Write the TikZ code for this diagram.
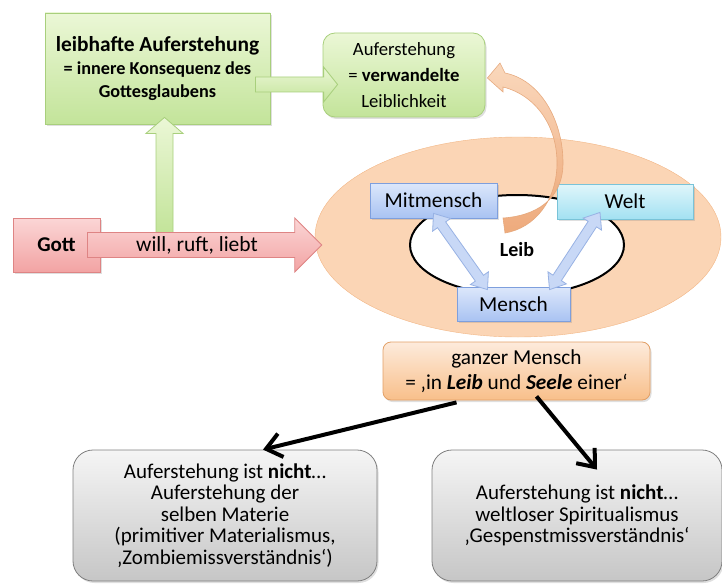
\documentclass[tikz,border=0pt]{standalone}
\usepackage{fontspec}
\setmainfont{Carlito}
\usetikzlibrary{calc,shadows,shapes.geometric,arrows.meta}

\definecolor{gruenoben}{HTML}{EBF7D6}
\definecolor{gruenunten}{HTML}{C3E49A}
\definecolor{gruenrand}{HTML}{A8CF7C}
\definecolor{rotoben}{HTML}{FBD6D6}
\definecolor{rotunten}{HTML}{F2A3A3}
\definecolor{rotrand}{HTML}{DE8484}
\definecolor{pfirsich}{HTML}{FBD5B5}
\definecolor{pfirsichrand}{HTML}{F2B685}
\definecolor{blauoben}{HTML}{DCE7FB}
\definecolor{blauunten}{HTML}{A9C3F2}
\definecolor{blaurand}{HTML}{7E9FDD}
\definecolor{blaupfeilfill}{HTML}{C8D8F6}
\definecolor{tuerkisoben}{HTML}{E0F6FB}
\definecolor{tuerkisunten}{HTML}{A3E1F2}
\definecolor{tuerkisrand}{HTML}{79C3D8}
\definecolor{orangeoben}{HTML}{FDEBDC}
\definecolor{orangeunten}{HTML}{F8BF8A}
\definecolor{orangerand}{HTML}{E2A067}
\definecolor{grauoben}{HTML}{F5F5F5}
\definecolor{grauunten}{HTML}{C6C6C6}
\definecolor{graurand}{HTML}{7F7F7F}
\definecolor{bogenoben}{HTML}{F9D4B6}
\definecolor{bogenunten}{HTML}{EDA472}
\definecolor{bogenrand}{HTML}{E5A679}

% block arrow: [style]{from}{to}{half shaft}{half head}{head length}
\newcommand{\blockpfeil}[6][]{%
  \path (#2) coordinate (bp-a) (#3) coordinate (bp-b);
  \path ($(bp-b)!#6!(bp-a)$) coordinate (bp-c);
  \draw[#1] ($(bp-a)!#4!90:(bp-b)$) -- ($(bp-c)!#4!90:(bp-b)$) -- ($(bp-c)!#5!90:(bp-b)$)
    -- (bp-b) -- ($(bp-c)!#5!-90:(bp-b)$) -- ($(bp-c)!#4!-90:(bp-b)$) -- ($(bp-a)!#4!-90:(bp-b)$) -- cycle;}
\newcommand{\doppelpfeil}[6][]{%
  \path (#2) coordinate (dp-a) (#3) coordinate (dp-b);
  \path ($(dp-a)!#6!(dp-b)$) coordinate (dp-c) ($(dp-b)!#6!(dp-a)$) coordinate (dp-d);
  \draw[#1] (dp-a) -- ($(dp-c)!#5!90:(dp-b)$) -- ($(dp-c)!#4!90:(dp-b)$) -- ($(dp-d)!#4!90:(dp-b)$)
    -- ($(dp-d)!#5!90:(dp-b)$) -- (dp-b) -- ($(dp-d)!#5!-90:(dp-b)$) -- ($(dp-d)!#4!-90:(dp-b)$)
    -- ($(dp-c)!#4!-90:(dp-b)$) -- ($(dp-c)!#5!-90:(dp-b)$) -- cycle;}

\tikzset{
  schatten/.style={drop shadow={opacity=.25,shadow xshift=1.5pt,shadow yshift=-2pt}},
  gruenbox/.style={draw=gruenrand,top color=gruenoben,bottom color=gruenunten,line width=.8pt,schatten},
  rotbox/.style={draw=rotrand,top color=rotoben,bottom color=rotunten,line width=.8pt,schatten},
  blaubox/.style={draw=blaurand,top color=blauoben,bottom color=blauunten,line width=.8pt,schatten},
  tuerkisbox/.style={draw=tuerkisrand,top color=tuerkisoben,bottom color=tuerkisunten,line width=.8pt,schatten},
  orangebox/.style={draw=orangerand,top color=orangeoben,bottom color=orangeunten,line width=.8pt,schatten},
  graubox/.style={draw=graurand,top color=grauoben,bottom color=grauunten,line width=.8pt,schatten},
  gruenpfeil/.style={draw=gruenrand,top color=gruenoben,bottom color=gruenunten,line width=.8pt},
  rotpfeil/.style={draw=rotrand,top color=rotoben,bottom color=rotunten,line width=.8pt},
  blaupfeil/.style={draw=blaurand!80,fill=blaupfeilfill,line width=.8pt},
  bogen/.style={draw=bogenrand,top color=bogenoben,bottom color=bogenunten,line width=.6pt,opacity=.92},
  schwarzpfeil/.style={line width=4pt,-{Straight Barb[length=15pt,width=24pt]}}
}

\begin{document}
\begin{tikzpicture}[x=1pt,y=-1pt,every node/.style={align=center,inner sep=2pt}]
  \useasboundingbox (0,0) rectangle (722,583);

  \node[ellipse,draw=pfirsichrand,fill=pfirsich,minimum width=406pt,minimum height=200pt] (person) at (518,237) {};
  \node[ellipse,draw=black,line width=2pt,fill=white,minimum width=214pt,minimum height=100pt,text height=23pt,
        font=\fontsize{20}{24}\selectfont\bfseries] (leib) at (517,245) {Leib};

  \node[gruenbox,minimum width=225pt,minimum height=111pt,font=\fontsize{18.2}{23}\selectfont\bfseries] (leibhaft) at (157.5,68.5)
    {{\fontsize{21.4}{25}\selectfont leibhafte Auferstehung}\\
     = innere Konsequenz des\\ Gottesglaubens};
  \node[gruenbox,rounded corners=12pt,minimum width=162pt,minimum height=84pt,
        font=\fontsize{18.7}{26}\selectfont] (verwandelt) at (404,75)
    {Auferstehung\\= \textbf{verwandelte}\\Leiblichkeit};
  \node[rotbox,minimum width=87pt,minimum height=54pt,font=\fontsize{21}{24}\selectfont\bfseries] (gott) at (56.5,245) {Gott};

  \node[blaubox,minimum width=127pt,minimum height=35pt,font=\fontsize{21.3}{24}\selectfont] (mitmensch) at (433.5,200.5) {Mitmensch};
  \node[tuerkisbox,minimum width=136pt,minimum height=35pt,font=\fontsize{21.3}{24}\selectfont] (welt) at (625,201.5) {Welt};
  \node[blaubox,minimum width=113pt,minimum height=34pt,font=\fontsize{21.3}{24}\selectfont] (mensch) at (513.5,304) {Mensch};

  \node[orangebox,rounded corners=8pt,minimum width=267pt,minimum height=58pt,font=\fontsize{21.3}{25}\selectfont] (ganz) at (516.5,371)
    {ganzer Mensch\\= ‚in \textbf{\textit{Leib}} und \textbf{\textit{Seele}} einer‘};

  \node[graubox,rounded corners=20pt,minimum width=304pt,minimum height=131pt,font=\fontsize{21}{21.5}\selectfont] (materie) at (225,515.5)
    {Auferstehung ist \textbf{nicht}…\\Auferstehung der\\selben Materie\\(primitiver Materialismus,\\‚Zombiemissverständnis‘)};
  \node[graubox,rounded corners=20pt,minimum width=290pt,minimum height=131pt,font=\fontsize{21}{21.5}\selectfont] (geist) at (577,515.5)
    {Auferstehung ist \textbf{nicht}…\\weltloser Spiritualismus\\‚Gespenstmissverständnis‘};

  % Pfeile
  \blockpfeil[gruenpfeil]{$(leibhaft.south)+(7,108)$}{$(leibhaft.south)+(7,-7)$}{8.5pt}{18.5pt}{16pt}
  \blockpfeil[gruenpfeil]{$(leibhaft.east)+(-15,16)$}{$(verwandelt.west)+(15,9.5)$}{7.5pt}{17.5pt}{14pt}
  \blockpfeil[rotpfeil]{$(gott.east)+(-13,0)$}{$(person.west)+(7,8)$}{12.5pt}{27pt}{27pt}
  \node[font=\fontsize{21.5}{24}\selectfont] (wille) at (197,245) {will, ruft, liebt};

  \doppelpfeil[blaupfeil]{$(mitmensch.south)+(0,-5)$}{$(mensch.north)+(-26,3)$}{5pt}{11pt}{14pt}
  \doppelpfeil[blaupfeil]{$(welt.south)+(-25,-7)$}{$(mensch.north)+(36,3)$}{5pt}{11pt}{14pt}

  % gebogener Pfeil aus dem Leib zur verwandelten Leiblichkeit
  \coordinate (bogenspitze) at ($(verwandelt.east)+(2,3)$);
  \path[bogen] (503,218) .. controls (535,216) and (563,200) .. (563,163)
    .. controls (563,120) and (540,80) .. (505,73) -- (500,63) -- (bogenspitze) -- (503,92) -- (503,87)
    .. controls (535,95) and (557,125) .. (557,163) .. controls (557,200) and (535,228) .. (505,233) -- cycle;

  \draw[schwarzpfeil] ($(ganz.south)+(-60,2)$) -- ($(materie.north)+(38,0)$);
  \draw[schwarzpfeil] ($(ganz.south)+(20,-4)$) -- ($(geist.north)+(20,20)$);
\end{tikzpicture}
\end{document}
